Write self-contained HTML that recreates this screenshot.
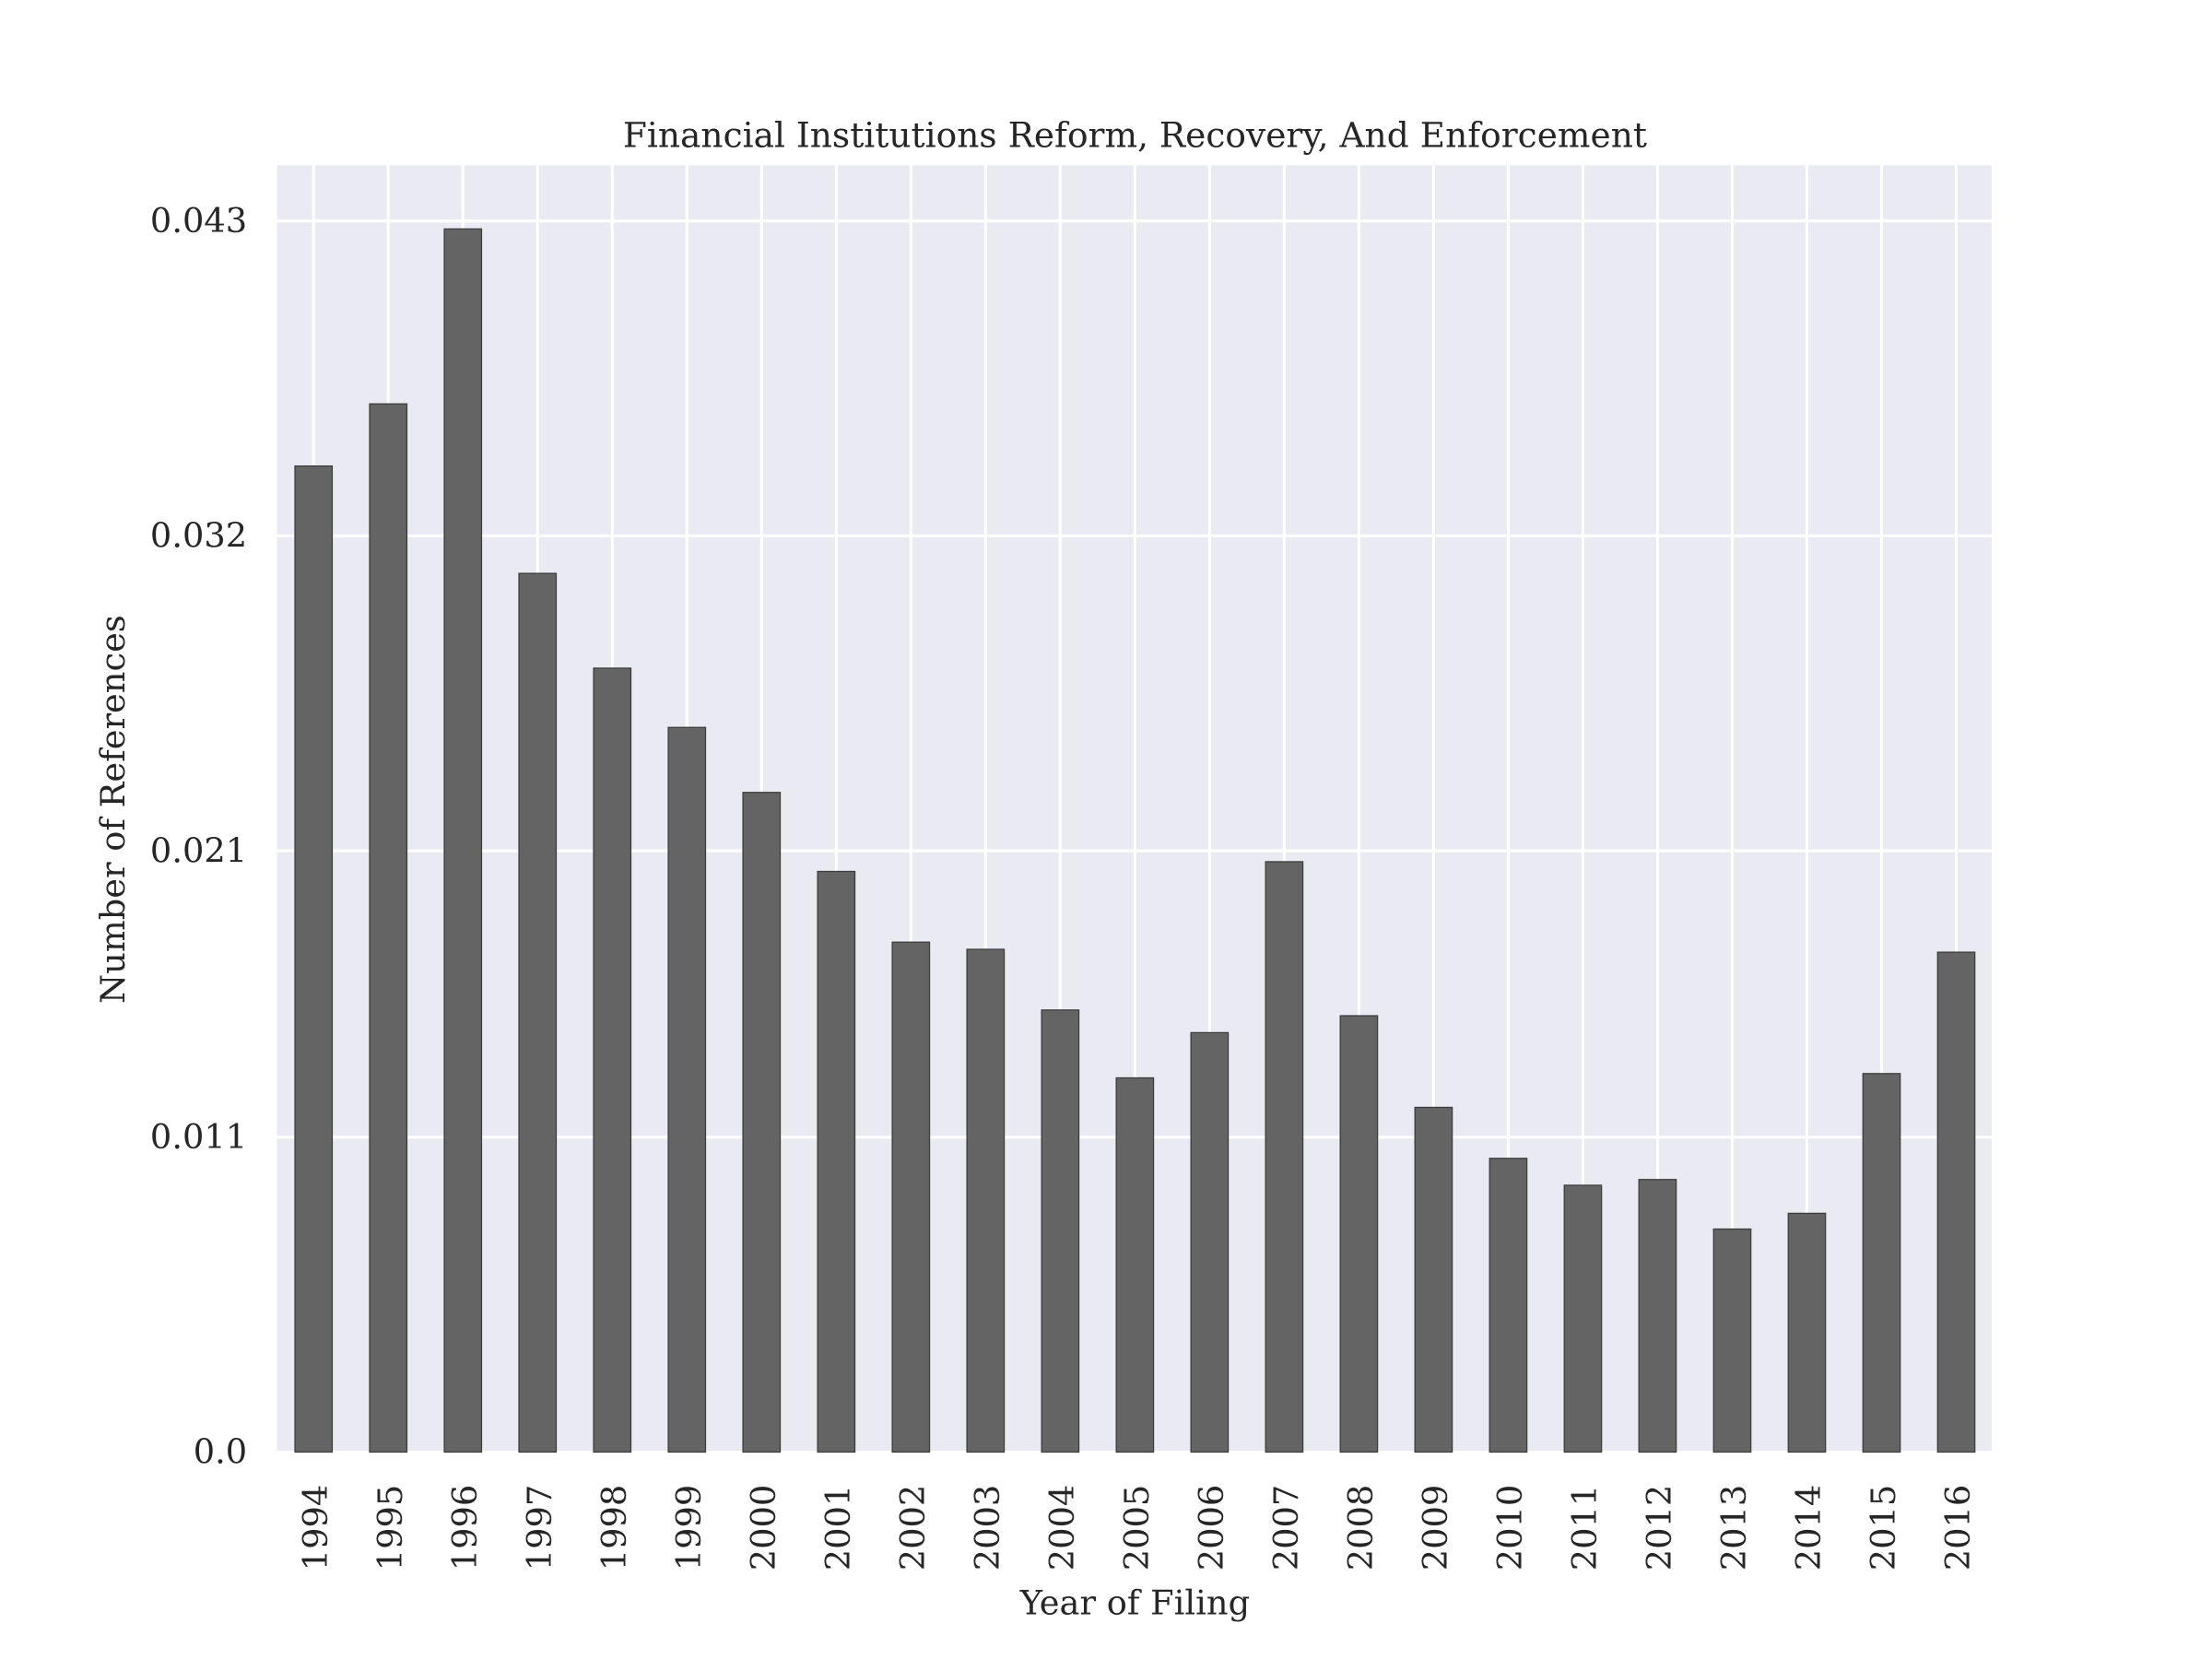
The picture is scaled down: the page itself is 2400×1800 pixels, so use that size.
<!DOCTYPE html>
<html><head><meta charset="utf-8"><style>html,body{margin:0;padding:0;background:#fff}svg{display:block}</style></head>
<body>
<svg id="chart" width="2400" height="1800" viewBox="0 0 1566 1174.5" preserveAspectRatio="none" xmlns="http://www.w3.org/2000/svg" font-family="'DejaVu Serif', 'Liberation Serif', serif">
<rect x="196" y="117" width="1214" height="911" fill="#eaeaf2"/>
<g id="grid"></g><g id="bars"></g><g id="labels"></g>
<text x="803.5" y="104" text-anchor="middle" font-size="24.5" fill="#262626">Financial Institutions Reform, Recovery, And Enforcement</text>
<text x="803.5" y="1143" text-anchor="middle" font-size="24" fill="#262626">Year of Filing</text>
<text transform="translate(88,573) rotate(-90)" text-anchor="middle" font-size="24" fill="#262626">Number of References</text>
</svg>
<script>
const categories=["1994","1995","1996","1997","1998","1999","2000","2001","2002","2003","2004","2005","2006","2007","2008","2009","2010","2011","2012","2013","2014","2015","2016"];
const values=[0.03444,0.03661,0.04272,0.03069,0.02738,0.02531,0.02304,0.02028,0.01781,0.01756,0.01544,0.01307,0.01465,0.02062,0.01524,0.01204,0.01026,0.00932,0.00952,0.00779,0.00834,0.01322,0.01746];
const tickLabels=["0.0","0.011","0.021","0.032","0.043"];
const tickPositions=[0,0.011,0.021,0.032,0.043];
const NS="http://www.w3.org/2000/svg";
function yScale(v){return 1028-v*20270;}
function xScale(i){return 222+i*52.86;}
function mk(t,a){const e=document.createElementNS(NS,t);for(const k in a)e.setAttribute(k,a[k]);return e;}
const grid=document.getElementById('grid'),bars=document.getElementById('bars'),labels=document.getElementById('labels');
tickPositions.forEach((v,i)=>{
  const y=yScale(v);
  const l=mk('line',{x1:196,x2:1410,y1:y,y2:y,stroke:'#fff','stroke-width':2});
  
  
  grid.appendChild(l);
  const t=mk('text',{x:175,y:y+8,'text-anchor':'end','font-size':24,fill:'#262626'});
  t.textContent=tickLabels[i];
  
  
  labels.appendChild(t);
});
categories.forEach((c,i)=>{
  const x=xScale(i);
  const l=mk('line',{x1:x,x2:x,y1:117,y2:1028,stroke:'#fff','stroke-width':2});
  
  
  grid.appendChild(l);
  const y=yScale(values[i]);
  const r=mk('rect',{x:x-13.2,y:y,width:26.4,height:1028-y,fill:'#646464',stroke:'#3a3a3a','stroke-width':0.8});
  
  
  bars.appendChild(r);
  const t=mk('text',{transform:`translate(${x+9.5},1051) rotate(-90)`,'text-anchor':'end','font-size':24,fill:'#262626'});
  t.textContent=c;
  
  
  labels.appendChild(t);
});
</script>
</body></html>
